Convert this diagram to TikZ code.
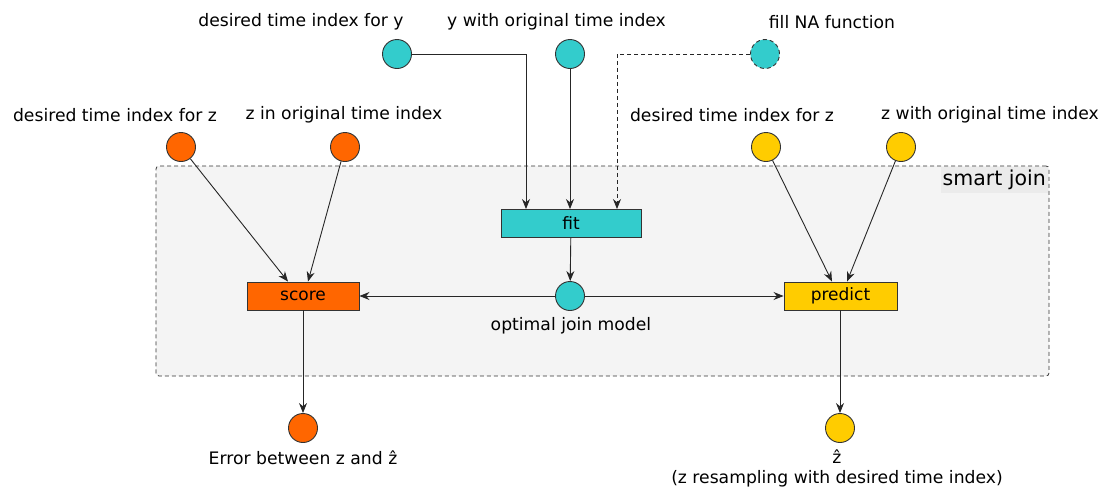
\documentclass[tikz,border=0pt]{standalone}
\usepackage{fontspec}
\setmainfont{DejaVu Sans}
\usetikzlibrary{arrows.meta}
\definecolor{cyanf}{HTML}{33CCCC}
\definecolor{orangef}{HTML}{FF6600}
\definecolor{yellowf}{HTML}{FFCC00}
\definecolor{strokec}{HTML}{333333}
\definecolor{groupf}{HTML}{F4F4F4}
\definecolor{labelbg}{HTML}{EBEBEB}
\tikzset{
  dot/.style={circle, draw=strokec, line width=0.9pt, minimum size=29pt, inner sep=0pt},
  proc/.style={rectangle, draw=strokec, line width=0.9pt, minimum height=28pt, inner sep=0pt},
  lbl/.style={inner sep=0pt, font=\fontsize{17.2}{20}\selectfont},
  dsh/.style={dash pattern=on 4pt off 3pt},
  conn/.style={draw=black!85, line width=0.9pt, -{Stealth[length=10pt,width=8pt]}},
}
\begin{document}
\begin{tikzpicture}[x=1pt,y=-1pt, font=\fontsize{17}{20}\selectfont]
\useasboundingbox (0,0) rectangle (1106,488);
% group
\node[draw=strokec, dsh, line width=0.8pt, fill=groupf, rounded corners=3pt,
      minimum width=893pt, minimum height=210pt, inner sep=0pt] (sj) at (602.5,271) {};
\node[fill=labelbg, inner xsep=2pt, inner ysep=3pt, anchor=north east, font=\fontsize{20.5}{24}\selectfont] (sjl) at (1048,167) {smart join};

% top cyan inputs
\node[dot, fill=cyanf] (dty) at (397,54) {};
\node[dot, fill=cyanf] (yor) at (570,54) {};
\node[dot, fill=cyanf, dsh] (fna) at (765,54) {};
\node[lbl] (ldty) at (301,22) {desired time index for y};
\node[lbl] (lyor) at (556.5,22) {y with original time index};
\node[lbl] (lfna) at (832,22) {fill NA function};

% orange inputs
\node[dot, fill=orangef] (oz1) at (181,147) {};
\node[dot, fill=orangef] (oz2) at (345,147) {};
\node[lbl] (loz1) at (115,115) {desired time index for z};
\node[lbl] (loz2) at (344,115) {z in original time index};

% yellow inputs
\node[dot, fill=yellowf] (yz1) at (766,147) {};
\node[dot, fill=yellowf] (yz2) at (901,147) {};
\node[lbl] (lyz1) at (732,115) {desired time index for z};
\node[lbl] (lyz2) at (990,115) {z with original time index};

% processes
\node[proc, fill=cyanf, minimum width=140pt] (fit) at (571,223.5) {fit};
\node[proc, fill=orangef, minimum width=112pt] (score) at (303,296) {score};
\node[proc, fill=yellowf, minimum width=113pt] (predict) at (840.5,296) {predict};
\node[dot, fill=cyanf] (ojm) at (570,296) {};
\node[lbl] (lojm) at (571,326) {optimal join model};

% outputs
\node[dot, fill=orangef] (err) at (303,428) {};
\node[dot, fill=yellowf] (zh) at (840,428) {};
\node[lbl] (lerr) at (303,458) {Error between z and ẑ};
\node[lbl, align=center] (lzh) at (837,468) {ẑ\\(z resampling with desired time index)};

% connectors
\draw[conn] (dty.east) -| ([xshift=-45pt]fit.north);
\draw[conn] (yor) -- (yor |- fit.north);
\draw[conn, dsh] (fna.west) -| ([xshift=46pt]fit.north);
\draw[conn] (fit) -- (ojm);
\draw[conn] (ojm) -- (score);
\draw[conn] (ojm) -- (predict);
\draw[conn] (oz1) -- ([xshift=-15pt]score.north);
\draw[conn] (oz2) -- ([xshift=5pt]score.north);
\draw[conn] (yz1) -- ([xshift=-8.5pt]predict.north);
\draw[conn] (yz2) -- ([xshift=6.5pt]predict.north);
\draw[conn] (score) -- (err);
\draw[conn] (predict.south -| zh) -- (zh);
\end{tikzpicture}
\end{document}
